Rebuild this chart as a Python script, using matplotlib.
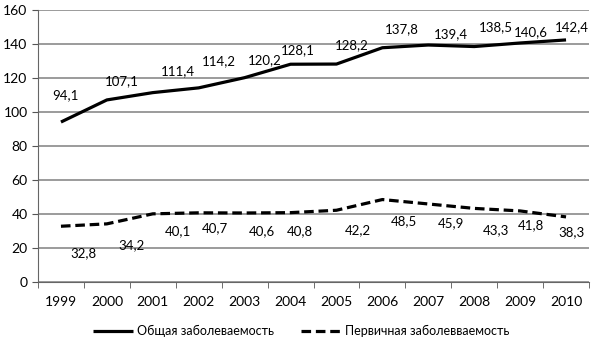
import numpy as np
import matplotlib
matplotlib.use("Agg")
import matplotlib.pyplot as plt

years = ["1999", "2000", "2001", "2002", "2003", "2004",
         "2005", "2006", "2007", "2008", "2009", "2010"]
total = [94.1, 107.1, 111.4, 114.2, 120.2, 128.1,
         128.2, 137.8, 139.4, 138.5, 140.6, 142.4]
primary = [32.8, 34.2, 40.1, 40.7, 40.6, 40.8,
           42.2, 48.5, 45.9, 43.3, 41.8, 38.3]
total_label = "Общая заболеваемость"
primary_label = "Первичная заболевваемость"

# сдвиги подписей (пиксели), как на исходной картинке
total_off = [(4, 27), (15, 19), (25, 21), (20, 27), (20, 18), (7, 14),
             (15, 19), (19, 19), (23, 11), (22, 19), (11, 11), (6, 13)]
primary_off = [(22, -27), (25, -21), (25, -17), (16, -15), (17, -18), (9, -19),
               (21, -20), (22, -22), (23, -19), (22, -22), (11, -14), (5, -15)]

plt.rcParams["font.family"] = ["Lato", "DejaVu Sans"]

fig = plt.figure(figsize=(6.02, 3.45), dpi=100)
ax = fig.add_axes([38 / 602, 1 - 282 / 345, 551 / 602, 272 / 345])

x = np.arange(len(years))
ax.plot(x, total, color="black", lw=2.3, solid_capstyle="butt", label=total_label)
ax.plot(x, primary, color="black", lw=2.3, ls=(0, (3, 1.5)), label=primary_label)

for i in range(len(years)):
    ax.annotate(f"{total[i]:.1f}".replace(".", ","), (x[i], total[i]),
                xytext=total_off[i], textcoords="offset pixels",
                ha="center", va="center", fontsize=9.5)
    ax.annotate(f"{primary[i]:.1f}".replace(".", ","), (x[i], primary[i]),
                xytext=primary_off[i], textcoords="offset pixels",
                ha="center", va="center", fontsize=9.5)

ax.set_xlim(-0.5, len(years) - 0.5)
ax.set_ylim(0, 160)
ax.set_yticks(np.arange(0, 161, 20))
ax.set_xticks(x)
ax.set_xticklabels(years)
ax.set_xticks(np.arange(-0.5, len(years)), minor=True)
ax.tick_params(axis="x", which="major", length=0, pad=10, labelsize=10)
ax.tick_params(axis="x", which="minor", length=4, color="#555555")
ax.tick_params(axis="y", length=4, color="#555555", labelsize=10)

ax.yaxis.grid(True, color="#8a8a8a", lw=1.2)
ax.set_axisbelow(True)
for s in ["top", "right"]:
    ax.spines[s].set_visible(False)
ax.spines["left"].set_color("#666666")
ax.spines["bottom"].set_color("#666666")

fig.legend(loc="center", bbox_to_anchor=(0.5, 1 - 331 / 345), ncol=2,
           frameon=False, fontsize=9, handlelength=3.2, handletextpad=0.3,
           columnspacing=2.2)

fig.savefig("out.png", dpi=100)
